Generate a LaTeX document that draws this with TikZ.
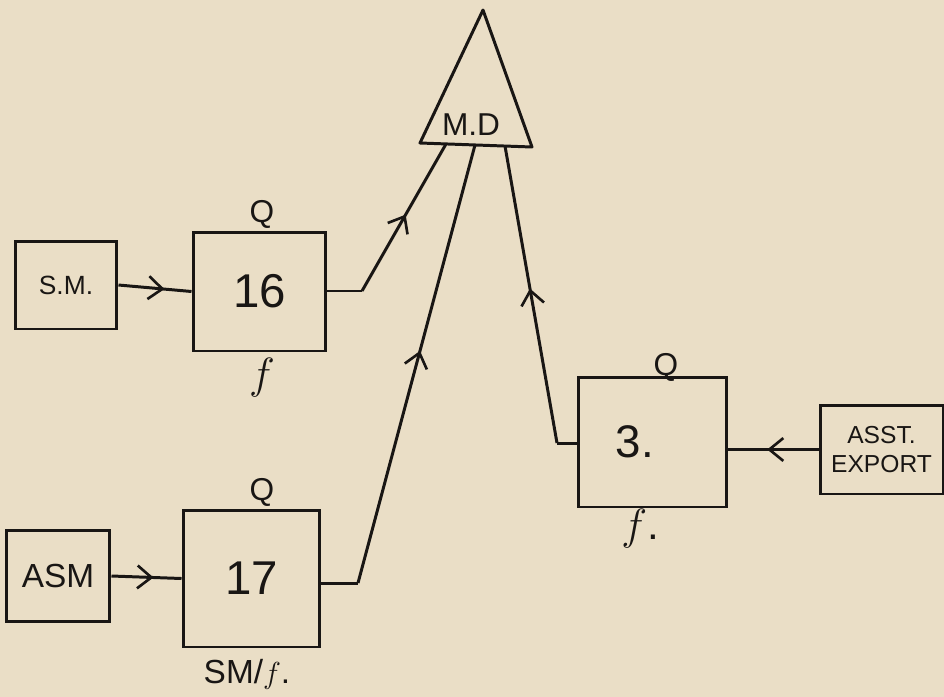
\documentclass[tikz,border=0pt]{standalone}
\usepackage{fontspec}
\setmainfont{Liberation Sans}
\usetikzlibrary{arrows.meta,decorations.markings}
\definecolor{paper}{RGB}{234,222,198}
\definecolor{ink}{RGB}{25,22,20}
\tikzset{
  every path/.style={line width=1.7pt, draw=ink},
  boxnode/.style={draw=ink, line width=1.7pt, inner sep=0pt, text=ink},
  lbl/.style={text=ink, inner sep=0pt},
  midarr/.style={postaction={decorate,decoration={markings,
     mark=at position #1 with {\arrow{Straight Barb[length=8pt,width=13pt,line width=1.5pt]}}}}},
}
\newcommand{\fsz}[1]{\fontsize{#1}{#1}\selectfont}
\begin{document}
\begin{tikzpicture}[x=0.02cm,y=-0.02cm]
\useasboundingbox[fill=paper,draw=none] (0,0) rectangle (944,697);
% triangle
\coordinate (apex) at (483,10);
\coordinate (tl) at (420,143);
\coordinate (tr) at (532,147);
\draw[line join=round] (apex) -- (tl) -- (tr) -- cycle;
\node[lbl,font=\fsz{18}] (md) at (471,125) {M.D};
\coordinate (t1) at (446,144);
\coordinate (t2) at (475,145);
\coordinate (t3) at (505,146);
% boxes
\node[boxnode,minimum width=2.04cm,minimum height=1.76cm,font=\fsz{15}] (sm) at (66,285) {S.M.};
\node[boxnode,minimum width=2.66cm,minimum height=2.38cm,font=\fsz{27}] (b16) at (259.5,291.5) {16};
\node[boxnode,minimum width=2.08cm,minimum height=1.82cm,font=\fsz{19}] (asm) at (58,576) {ASM};
\node[boxnode,minimum width=2.74cm,minimum height=2.74cm,font=\fsz{27}] (b17) at (251.5,578.5) {17};
\node[boxnode,minimum width=2.98cm,minimum height=2.6cm,font=\fsz{26}] (b3) at (652.5,442) {\hspace*{-0.7cm}3.};
\node[boxnode,minimum width=2.46cm,minimum height=1.78cm,font=\fsz{14},align=center] (asst) at (881.5,449.5) {ASST.\\[3pt]EXPORT};
% labels
\node[lbl,font=\fsz{18}] (q16) at (262,214) {Q};
\node[lbl,font=\fsz{24}] (f16) at (262,378) {$f$};
\node[lbl,font=\fsz{18}] (q17) at (262,492) {Q};
\node[lbl,font=\fsz{19}] (f17) at (247,674) {SM/$f$.};
\node[lbl,font=\fsz{18}] (q3) at (666,367) {Q};
\node[lbl,font=\fsz{24}] (f3) at (640,529) {$f$.};
% connectors
\draw[midarr=0.63] (sm.east) -- (b16.west);
\draw[midarr=0.6] (asm.east) -- (b17.west);
\draw[midarr=0.57] (asst.west) -- (b3.east |- asst.west);
\coordinate (k16) at (362,291);
\coordinate (k17) at (358,583);
\coordinate (k3) at (557,443);
\draw (b16.east |- k16) -- (k16);
\draw[midarr=0.52] (k16) -- (t1);
\draw (b17.east |- k17) -- (k17);
\draw[midarr=0.53] (k17) -- (t2);
\draw (b3.west |- k3) -- (k3);
\draw[midarr=0.52] (k3) -- (t3);
\end{tikzpicture}
\end{document}
